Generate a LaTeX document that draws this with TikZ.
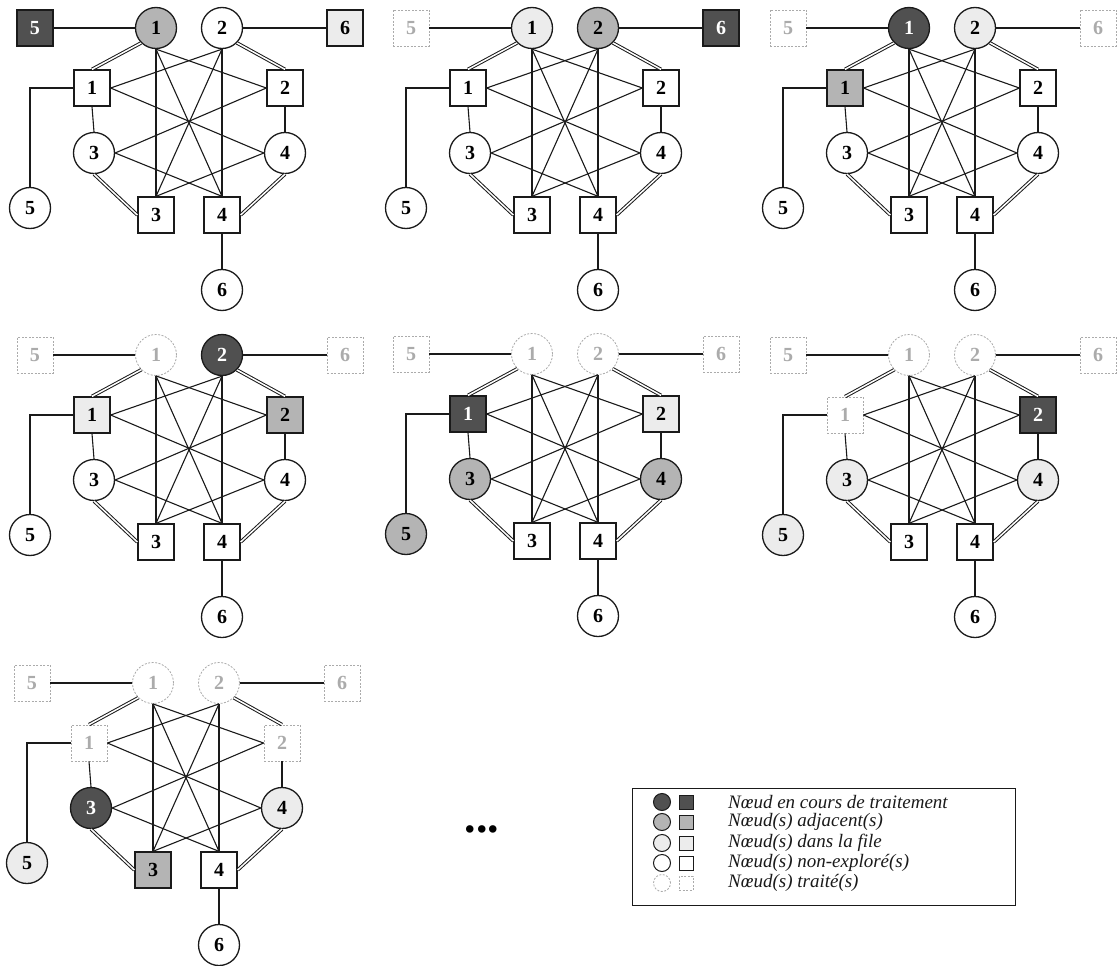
\documentclass[tikz,border=0pt]{standalone}
\usepackage{fontspec}
\setmainfont{Liberation Serif}
\definecolor{curfill}{HTML}{505050}
\definecolor{adjfill}{HTML}{B4B4B4}
\definecolor{quefill}{HTML}{ECECEC}
\definecolor{donecol}{HTML}{ABABAB}
\definecolor{inkcol}{HTML}{1A1A1A}
\tikzset{
  x=1pt, y=-1pt,
  basenode/.style={draw=inkcol, line width=1.3pt, inner sep=0pt, fill=white, text=black,
    font=\fontsize{20}{20}\selectfont\bfseries},
  circ/.style={basenode, circle, minimum size=41pt},
  sqr/.style={basenode, rectangle, minimum size=36pt},
  stcur/.style={fill=curfill, text=white},
  stadj/.style={fill=adjfill},
  stque/.style={fill=quefill},
  stdone/.style={draw=donecol, dash pattern=on 2pt off 1.5pt, line width=0.8pt, text=donecol, fill=white},
  lnk/.style={draw=inkcol, line width=1.1pt},
  dbllnk/.style={draw=inkcol, line width=1pt, double=white, double distance=1.5pt},
  sC1/.style={}, sC2/.style={}, sC3/.style={}, sC4/.style={}, sC5/.style={}, sC6/.style={},
  sS1/.style={}, sS2/.style={}, sS3/.style={}, sS4/.style={}, sS5/.style={}, sS6/.style={},
  legsym/.style={draw=inkcol, line width=1pt, inner sep=0pt, fill=white},
  legtxt/.style={anchor=west, inner sep=0pt, text=inkcol, font=\fontsize{19}{19}\selectfont\itshape}
}
\newcommand{\bfsgraph}[1]{%
  \node[sqr, sS5] (#1s5) at (35,28) {5};
  \node[circ, sC1] (#1c1) at (156,28) {1};
  \node[circ, sC2] (#1c2) at (222,28) {2};
  \node[sqr, sS6] (#1s6) at (345,28) {6};
  \node[sqr, sS1] (#1s1) at (92,88) {1};
  \node[sqr, sS2] (#1s2) at (285,88) {2};
  \node[circ, sC3] (#1c3) at (94,153) {3};
  \node[circ, sC4] (#1c4) at (285,153) {4};
  \node[sqr, sS3] (#1s3) at (156,215) {3};
  \node[sqr, sS4] (#1s4) at (222,215) {4};
  \node[circ, sC5] (#1c5) at (30,208) {5};
  \node[circ, sC6] (#1c6) at (222,290) {6};
  \draw[lnk] (#1s5.east) -- (#1c1.west);
  \draw[lnk] (#1c2.east) -- (#1s6.west);
  \draw[dbllnk] (#1c1.south west) -- (#1s1.north);
  \draw[dbllnk] (#1c2.south east) -- (#1s2.north);
  \draw[dbllnk] (#1c3.south) -- (#1s3.west);
  \draw[dbllnk] (#1c4.south) -- (#1s4.east);
  \draw[lnk] (#1s1.south) -- (#1c3.north);
  \draw[lnk] (#1s2.south) -- (#1c4.north);
  \draw[lnk] (#1s4.south) -- (#1c6.north);
  \draw[lnk] (#1s1.west) -| (#1c5.north);
  \draw[lnk] (#1c1.south) -- (#1s2.west);
  \draw[lnk] (#1c1.south) -- (#1s3.north);
  \draw[lnk] (#1c1.south) -- (#1s4.north);
  \draw[lnk] (#1c2.south) -- (#1s1.east);
  \draw[lnk] (#1c2.south) -- (#1s3.north);
  \draw[lnk] (#1c2.south) -- (#1s4.north);
  \draw[lnk] (#1c3.east) -- (#1s2.west);
  \draw[lnk] (#1c3.east) -- (#1s4.north);
  \draw[lnk] (#1c4.west) -- (#1s1.east);
  \draw[lnk] (#1c4.west) -- (#1s3.north);
}
\begin{document}
\begin{tikzpicture}
\useasboundingbox[fill=white] (0,0) rectangle (1120,966);
% panel 1
\begin{scope}[shift={(0,0)}, sS5/.style=stcur, sC1/.style=stadj, sS6/.style=stque]
  \bfsgraph{a}
\end{scope}
% panel 2
\begin{scope}[shift={(376,0)}, sS5/.style=stdone, sC1/.style=stque, sC2/.style=stadj, sS6/.style=stcur]
  \bfsgraph{b}
\end{scope}
% panel 3
\begin{scope}[shift={(753,0)}, sS5/.style=stdone, sS6/.style=stdone, sC1/.style=stcur, sC2/.style=stque, sS1/.style=stadj]
  \bfsgraph{c}
\end{scope}
% panel 4
\begin{scope}[shift={(0,327)}, sS5/.style=stdone, sS6/.style=stdone, sC1/.style=stdone, sC2/.style=stcur, sS1/.style=stque, sS2/.style=stadj]
  \bfsgraph{d}
\end{scope}
% panel 5
\begin{scope}[shift={(376,326)}, sS5/.style=stdone, sS6/.style=stdone, sC1/.style=stdone, sC2/.style=stdone, sS1/.style=stcur, sS2/.style=stque, sC3/.style=stadj, sC4/.style=stadj, sC5/.style=stadj]
  \bfsgraph{e}
\end{scope}
% panel 6
\begin{scope}[shift={(753,327)}, sS5/.style=stdone, sS6/.style=stdone, sC1/.style=stdone, sC2/.style=stdone, sS1/.style=stdone, sS2/.style=stcur, sC3/.style=stque, sC4/.style=stque, sC5/.style=stque]
  \bfsgraph{f}
\end{scope}
% panel 7
\begin{scope}[shift={(-3,655)}, sS5/.style=stdone, sS6/.style=stdone, sC1/.style=stdone, sC2/.style=stdone, sS1/.style=stdone, sS2/.style=stdone, sC3/.style=stcur, sS3/.style=stadj, sC4/.style=stque, sC5/.style=stque]
  \bfsgraph{g}
\end{scope}
% ellipsis
\node[inner sep=0pt, font=\fontsize{46}{46}\selectfont\bfseries] (dots) at (482,829) {...};
% legend
\node[draw=inkcol, line width=1.2pt, fill=white, minimum width=383pt, minimum height=117pt, anchor=north west] (legend) at (632,788) {};
\node[legsym, circle, minimum size=17pt, fill=curfill] (lc1) at (662,802) {};
\node[legsym, rectangle, minimum size=14pt, fill=curfill] (ls1) at (686,802) {};
\node[legtxt] (lt1) at (728,802) {Nœud en cours de traitement};
\node[legsym, circle, minimum size=17pt, fill=adjfill] (lc2) at (662,822) {};
\node[legsym, rectangle, minimum size=14pt, fill=adjfill] (ls2) at (686,822) {};
\node[legtxt] (lt2) at (728,822) {Nœud(s) adjacent(s)};
\node[legsym, circle, minimum size=17pt, fill=quefill] (lc3) at (662,843) {};
\node[legsym, rectangle, minimum size=14pt, fill=quefill] (ls3) at (686,843) {};
\node[legtxt] (lt3) at (728,843) {Nœud(s) dans la file};
\node[legsym, circle, minimum size=17pt] (lc4) at (662,863) {};
\node[legsym, rectangle, minimum size=14pt] (ls4) at (686,863) {};
\node[legtxt] (lt4) at (728,863) {Nœud(s) non-exploré(s)};
\node[legsym, circle, minimum size=17pt, stdone] (lc5) at (662,883) {};
\node[legsym, rectangle, minimum size=14pt, stdone] (ls5) at (686,883) {};
\node[legtxt] (lt5) at (728,883) {Nœud(s) traité(s)};
\end{tikzpicture}
\end{document}
